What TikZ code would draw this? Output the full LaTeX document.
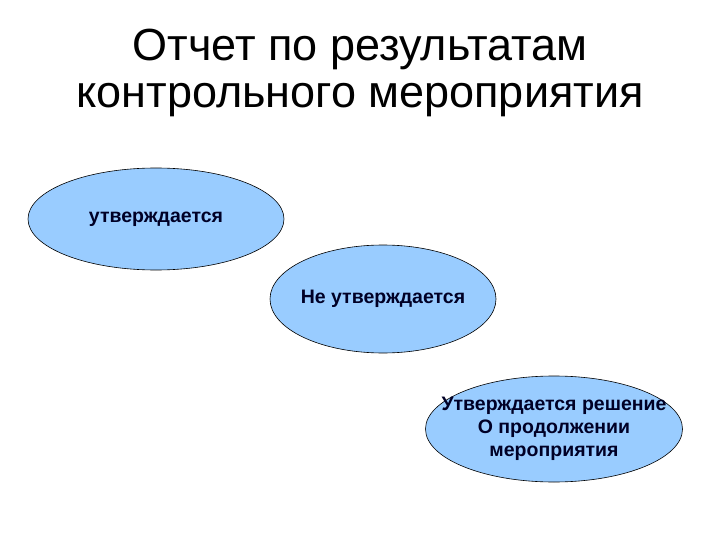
\documentclass[tikz,border=0pt]{standalone}
\usepackage{fontspec}
\setmainfont{Liberation Sans}
\usetikzlibrary{shapes.geometric}
\definecolor{oval}{HTML}{99CCFF}

\begin{document}
\begin{tikzpicture}[x=1pt, y=-1pt]
    \tikzstyle{title} = [font=\fontsize{45}{47}\selectfont, align=center, text=black]
    \tikzstyle{oval} = [ellipse, draw, semithick, fill=oval, inner sep=0pt]
    \tikzstyle{ovaltext} = [align=center, inner sep=0pt, font=\fontsize{19.5}{23}\selectfont\bfseries, text=black!85!blue]

    \useasboundingbox (0,0) rectangle (720,540);

    % Title
    \node [title] (head) at (360,73) {Отчет по результатам\\контрольного мероприятия};

    % Ovals
    \node [oval, minimum width=256pt, minimum height=102pt] (yes) at (156,219) {};
    \node [oval, minimum width=226pt, minimum height=108pt] (no) at (383,299) {};
    \node [oval, minimum width=257pt, minimum height=106pt] (cont) at (554,429) {};

    % Texts
    \node [ovaltext] (yestext) at (yes) {утверждается};
    \node [ovaltext] (notext) at (no) {Не утверждается};
    \node [ovaltext] (conttext) at (cont) {Утверждается решение\\О продолжении\\мероприятия};

\end{tikzpicture}
\end{document}
